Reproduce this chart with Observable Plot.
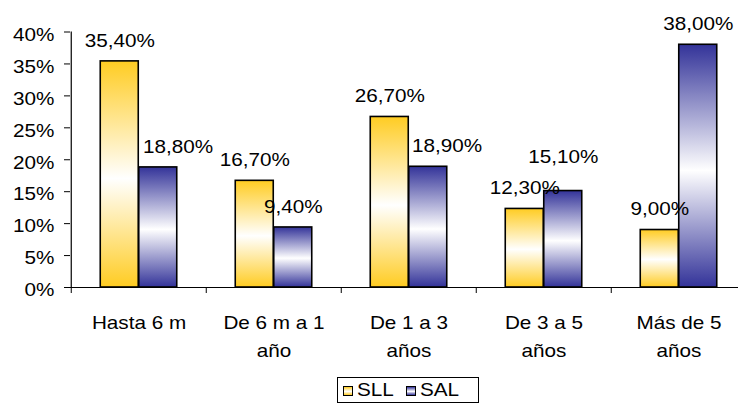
<!DOCTYPE html>
<html><head><meta charset="utf-8">
<script src="https://cdn.jsdelivr.net/npm/d3@7"></script>
<script src="https://cdn.jsdelivr.net/npm/@observablehq/plot@0.6"></script>
<style>
html,body{margin:0;padding:0;background:#fff;overflow:hidden;}
body{font-family:Arial,"Liberation Sans",sans-serif;width:738px;height:405px;position:relative;}
#chart{position:absolute;left:0;top:0;}
#legend{position:absolute;left:337px;top:377px;width:142px;height:26px;border:1px solid #000;box-sizing:border-box;background:#fff;}
#legend .sw{position:absolute;top:8px;width:10px;height:10px;border:1px solid #000;box-sizing:border-box;}
#legend .lb{position:absolute;top:2px;font-size:18px;line-height:20px;color:#000;transform:scaleX(1.15);transform-origin:left center;white-space:nowrap;}
</style></head>
<body>
<div id="chart"></div>
<div id="legend"></div>
<script>
// ---- data ----
const categories = ["Hasta 6 m", "De 6 m a 1 año", "De 1 a 3 años", "De 3 a 5 años", "Más de 5 años"];
const tickLabels = ["Hasta 6 m", "De 6 m a 1\naño", "De 1 a 3\naños", "De 3 a 5\naños", "Más de 5\naños"];
const seriesNames = ["SLL", "SAL"];
const sllValues = [35.4, 16.7, 26.7, 12.3, 9.0];
const salValues = [18.8, 9.4, 18.9, 15.1, 38.0];
const yTicks = [0, 5, 10, 15, 20, 25, 30, 35, 40];

// ---- table ----
const rows = [];
categories.forEach((c, i) => {
  rows.push({category: c, series: "SLL", value: sllValues[i]});
  rows.push({category: c, series: "SAL", value: salValues[i]});
});
const fmt = v => v.toFixed(2).replace(".", ",") + "%";
const labelOf = new Map(categories.map((c, i) => [c, tickLabels[i]]));

// ---- layout ----
const bandW = 135.5, barW = 38.5;
const stretch = 1.15;
const extraDx = {"Hasta 6 m|SAL": 19.7, "De 1 a 3 años|SAL": 18.7};
const extraDy = {"De 3 a 5 años|SAL": -13};

const valueLabels = rows.map(r => {
  const key = r.category + "|" + r.series;
  const base = r.series === "SLL" ? -barW / 2 : barW / 2;
  const dx = base + (extraDx[key] || 0);
  const dy = -20.4 + (extraDy[key] || 0);
  return Plot.text([r], {x: "category", y: "value", text: d => fmt(d.value), dx, dy, fill: "#000"});
});

const chart = Plot.plot({
  width: 738,
  height: 368,
  marginLeft: 70,
  marginRight: 0,
  marginTop: 31.5,
  marginBottom: 81,
  x: {domain: categories, range: [70, 70 + bandW * 5], padding: 0, axis: null},
  y: {domain: [0, 40], axis: null},
  style: {fontFamily: "Arial, 'Liberation Sans', sans-serif", fontSize: "18px", color: "#000", background: "#fff", overflow: "visible"},
  marks: [
    Plot.barY(rows.filter(d => d.series === "SLL"), {x: "category", y: "value", fill: "url(#gSLL)", stroke: "#000", strokeWidth: 1.6, insetLeft: bandW / 2 - barW, insetRight: bandW / 2}),
    Plot.barY(rows.filter(d => d.series === "SAL"), {x: "category", y: "value", fill: "url(#gSAL)", stroke: "#000", strokeWidth: 1.6, insetLeft: bandW / 2, insetRight: bandW / 2 - barW}),
    Plot.ruleY([0], {stroke: "#000", strokeWidth: 1.2}),
    Plot.ruleX([categories[0]], {x: d => d, y1: 0, y2: 40, dx: -bandW / 2, stroke: "#000", strokeWidth: 1.2}),
    Plot.axisY({ticks: yTicks, tickSize: 6, tickFormat: () => "", stroke: "#000", strokeOpacity: 1, label: null}),
    Plot.axisY({ticks: yTicks, tickSize: 0, tickPadding: 16, tickFormat: d => d + "%", dy: 3, fill: "#000", label: null}),
    Plot.axisX({tickSize: 6, tickFormat: () => "", dx: -bandW / 2, stroke: "#000", strokeOpacity: 1, label: null}),
    Plot.axisX({tickSize: 0, tickPadding: 22, tickFormat: d => labelOf.get(d), lineHeight: 1.53, fill: "#000", label: null}),
    ...valueLabels
  ]
});

// gradients
const svg = d3.select(chart);
const defs = svg.insert("defs", ":first-child");
function grad(id, color) {
  const g = defs.append("linearGradient").attr("id", id).attr("x1", 0).attr("y1", 0).attr("x2", 0).attr("y2", 1);
  g.append("stop").attr("offset", "0%").attr("stop-color", color);
  g.append("stop").attr("offset", "52%").attr("stop-color", "#ffffff");
  g.append("stop").attr("offset", "100%").attr("stop-color", color);
}
grad("gSLL", "#ffcc22");
grad("gSAL", "#333399");

document.getElementById("chart").appendChild(chart);

// horizontal stretch of the text (the source font is drawn wide)
svg.selectAll("text").each(function() {
  const t = d3.select(this);
  let tr = t.attr("transform");
  if (!tr) {
    const x = +t.attr("x") || 0, y = +t.attr("y") || 0;
    t.attr("x", null).attr("y", null);
    tr = `translate(${x},${y})`;
  }
  t.attr("transform", tr + ` scale(${stretch},1)`);
});

// legend
const legend = document.getElementById("legend");
const items = [
  {name: seriesNames[0], bg: "linear-gradient(to bottom,#ffcc22,#ffffff 55%,#ffcc22)", sw: 5, lb: 19},
  {name: seriesNames[1], bg: "linear-gradient(to bottom,#333399,#ffffff 55%,#333399)", sw: 68, lb: 82}
];
items.forEach(it => {
  const s = document.createElement("div");
  s.className = "sw"; s.style.left = it.sw + "px"; s.style.background = it.bg;
  legend.appendChild(s);
  const l = document.createElement("div");
  l.className = "lb"; l.style.left = it.lb + "px"; l.textContent = it.name;
  legend.appendChild(l);
});
</script>
</body></html>
